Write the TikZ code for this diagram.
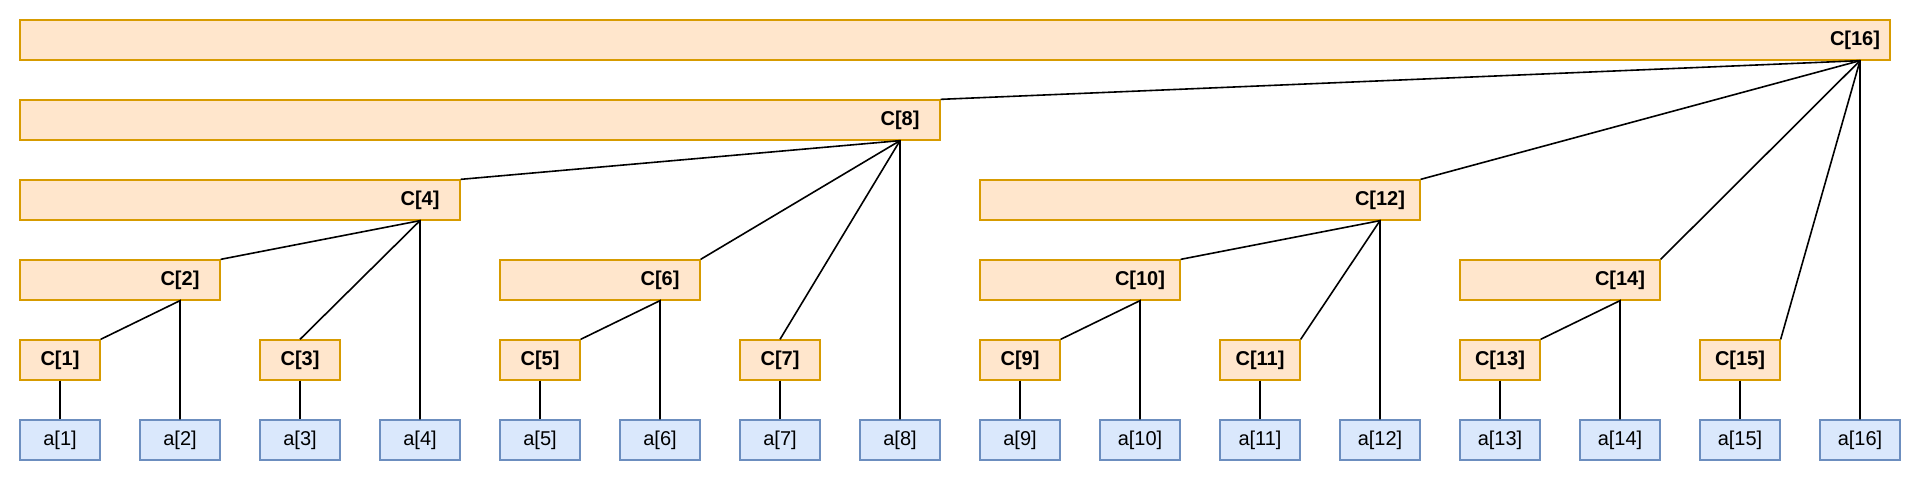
\documentclass[tikz,border=0pt]{standalone}
\usepackage{fontspec}
\setmainfont{Liberation Sans}
\usepackage{xcolor}
\usepackage{tikz}
\usetikzlibrary{positioning}
\definecolor{sumfill}{HTML}{FFE6CC}
\definecolor{sumline}{HTML}{D79B00}
\definecolor{arrfill}{HTML}{DAE8FC}
\definecolor{arrline}{HTML}{6C8EBF}

\begin{document}
\begin{tikzpicture}[
        x=1pt, y=-1pt,
        every node/.style={font=\fontsize{20}{24}\selectfont},
        arr/.style={rectangle, draw=arrline, line width=1.3pt, fill=arrfill, minimum width=80pt, minimum height=40pt, inner sep=0pt},
        sumbox/.style={rectangle, draw=sumline, line width=1.3pt, fill=sumfill, minimum height=40pt, inner sep=0pt},
        sumtext/.style={inner sep=0pt, font=\fontsize{20}{24}\selectfont\bfseries},
        link/.style={line width=1.6pt, black}
    ]
        \useasboundingbox (0,0) rectangle (1921,481);

        % array a[1..16]
        \node[arr] (a1) at (60,440) {a[1]};
        \node[arr] (a2) at (180,440) {a[2]};
        \node[arr] (a3) at (300,440) {a[3]};
        \node[arr] (a4) at (420,440) {a[4]};
        \node[arr] (a5) at (540,440) {a[5]};
        \node[arr] (a6) at (660,440) {a[6]};
        \node[arr] (a7) at (780,440) {a[7]};
        \node[arr] (a8) at (900,440) {a[8]};
        \node[arr] (a9) at (1020,440) {a[9]};
        \node[arr] (a10) at (1140,440) {a[10]};
        \node[arr] (a11) at (1260,440) {a[11]};
        \node[arr] (a12) at (1380,440) {a[12]};
        \node[arr] (a13) at (1500,440) {a[13]};
        \node[arr] (a14) at (1620,440) {a[14]};
        \node[arr] (a15) at (1740,440) {a[15]};
        \node[arr] (a16) at (1860,440) {a[16]};

        % odd sums, one cell wide
        \node[sumbox, sumtext, minimum width=80pt] (c1) at (60,360) {C[1]};
        \node[sumbox, sumtext, minimum width=80pt] (c3) at (300,360) {C[3]};
        \node[sumbox, sumtext, minimum width=80pt] (c5) at (540,360) {C[5]};
        \node[sumbox, sumtext, minimum width=80pt] (c7) at (780,360) {C[7]};
        \node[sumbox, sumtext, minimum width=80pt] (c9) at (1020,360) {C[9]};
        \node[sumbox, sumtext, minimum width=80pt] (c11) at (1260,360) {C[11]};
        \node[sumbox, sumtext, minimum width=80pt] (c13) at (1500,360) {C[13]};
        \node[sumbox, sumtext, minimum width=80pt] (c15) at (1740,360) {C[15]};

        % even sums, box over the covered range, label over its own cell
        \node[sumbox, minimum width=200pt] (b2) at (120,280) {};
        \node[sumtext] (c2) at (180,280) {C[2]};
        \node[sumbox, minimum width=200pt] (b6) at (600,280) {};
        \node[sumtext] (c6) at (660,280) {C[6]};
        \node[sumbox, minimum width=200pt] (b10) at (1080,280) {};
        \node[sumtext] (c10) at (1140,280) {C[10]};
        \node[sumbox, minimum width=200pt] (b14) at (1560,280) {};
        \node[sumtext] (c14) at (1620,280) {C[14]};
        \node[sumbox, minimum width=440pt] (b4) at (240,200) {};
        \node[sumtext] (c4) at (420,200) {C[4]};
        \node[sumbox, minimum width=440pt] (b12) at (1200,200) {};
        \node[sumtext] (c12) at (1380,200) {C[12]};
        \node[sumbox, minimum width=920pt] (b8) at (480,120) {};
        \node[sumtext] (c8) at (900,120) {C[8]};
        \node[sumbox, minimum width=1870pt] (b16) at (955,40) {};
        \node[sumtext] (c16) at (1855,40) {C[16]};

        % links
        \draw[link] (c1) -- (a1);
        \draw[link] (c3) -- (a3);
        \draw[link] (c5) -- (a5);
        \draw[link] (c7) -- (a7);
        \draw[link] (c9) -- (a9);
        \draw[link] (c11) -- (a11);
        \draw[link] (c13) -- (a13);
        \draw[link] (c15) -- (a15);

        \draw[link] (a2.north) -- (a2 |- b2.south) -- (c1.north east);
        \draw[link] (a6.north) -- (a6 |- b6.south) -- (c5.north east);
        \draw[link] (a10.north) -- (a10 |- b10.south) -- (c9.north east);
        \draw[link] (a14.north) -- (a14 |- b14.south) -- (c13.north east);

        \draw[link] (a4.north) -- (a4 |- b4.south) -- (b2.north east);
        \draw[link] (a4 |- b4.south) -- (c3.north);
        \draw[link] (a12.north) -- (a12 |- b12.south) -- (b10.north east);
        \draw[link] (a12 |- b12.south) -- (c11.north east);

        \draw[link] (a8.north) -- (a8 |- b8.south) -- (b4.north east);
        \draw[link] (a8 |- b8.south) -- (b6.north east);
        \draw[link] (a8 |- b8.south) -- (c7.north);

        \draw[link] (a16.north) -- (a16 |- b16.south) -- (b8.north east);
        \draw[link] (a16 |- b16.south) -- (b12.north east);
        \draw[link] (a16 |- b16.south) -- (b14.north east);
        \draw[link] (a16 |- b16.south) -- (c15.north east);
    \end{tikzpicture}
\end{document}
